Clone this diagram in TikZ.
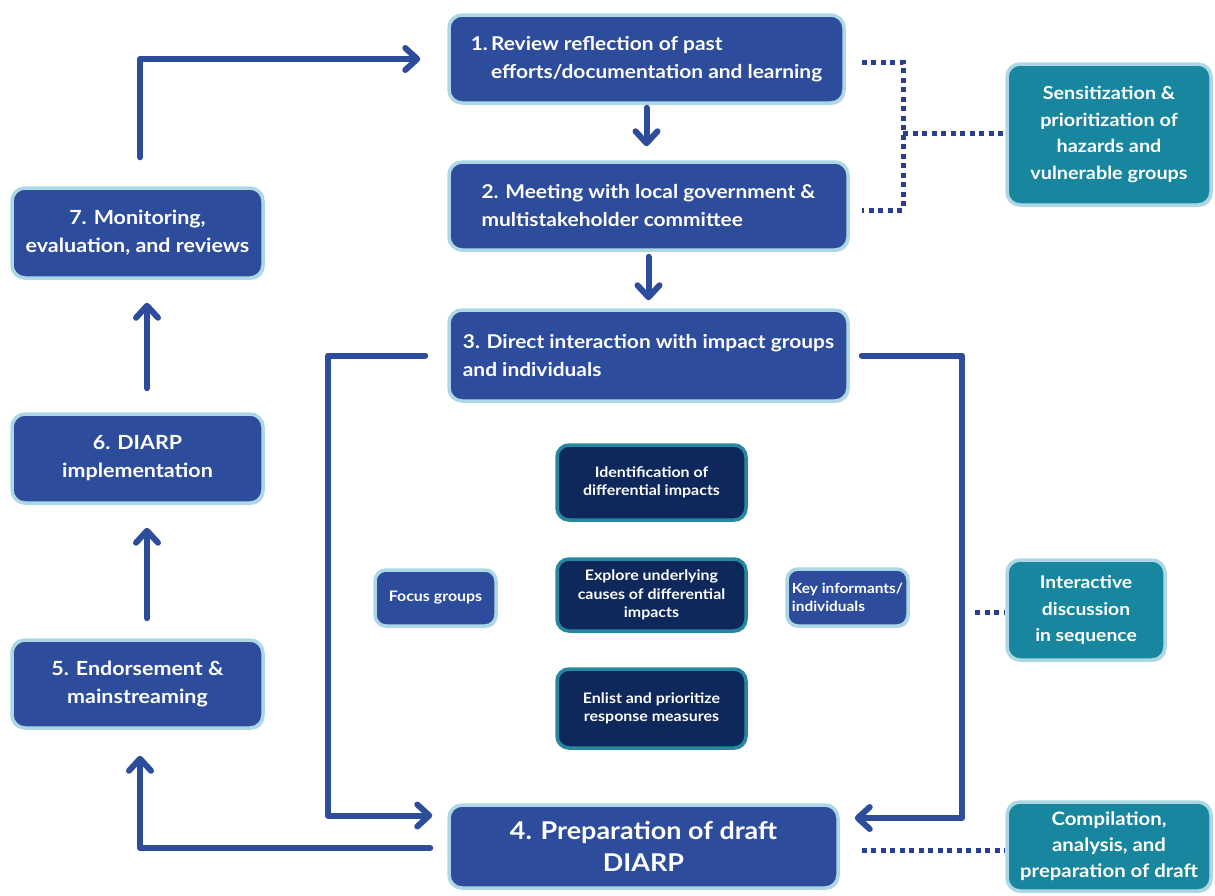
\documentclass[tikz,border=0pt]{standalone}
\usepackage{fontspec}
\setmainfont{Lato}[FakeStretch=1.1]
\usetikzlibrary{arrows.meta,shadows}
\definecolor{mb}{RGB}{46,76,156}
\definecolor{lb}{RGB}{172,216,230}
\definecolor{tl}{RGB}{24,134,158}
\definecolor{nv}{RGB}{14,40,92}
\definecolor{tb}{RGB}{38,136,158}
\definecolor{ac}{RGB}{46,76,156}
\definecolor{dc}{RGB}{40,62,145}
\tikzset{
  mainbox/.style={draw=lb, line width=3.5pt, fill=mb, rounded corners=13pt, text=white,
    inner sep=0pt, font=\bfseries\fontsize{19}{28}\selectfont,
    drop shadow={shadow xshift=1.5pt, shadow yshift=-2pt, opacity=0.25}},
  leftbox/.style={mainbox, align=center, font=\bfseries\fontsize{19.5}{28}\selectfont},
  sidebox/.style={mainbox, fill=tl, align=center, font=\bfseries\fontsize{18}{26.5}\selectfont},
  innerbox/.style={mainbox, draw=tb, fill=nv, rounded corners=12pt, align=center,
    font=\bfseries\fontsize{14.5}{18.5}\selectfont},
  smallbox/.style={mainbox, rounded corners=11pt, align=left, font=\bfseries\fontsize{14.5}{18}\selectfont},
  arr/.style={draw=ac, line width=6pt, line cap=round, line join=round,
    -{Straight Barb[length=12pt,width=22pt,line cap=round,line join=round]}},
  dots/.style={draw=dc, line width=5pt, dash pattern=on 5pt off 4.5pt},
}
\begin{document}
\begin{tikzpicture}[x=1pt,y=-1pt]
\useasboundingbox (0,0) rectangle (1215,895);
% main steps
\node[mainbox, align=left, minimum width=395pt, minimum height=88pt] (b1) at (646.5,59)
  {1.\,Review reflection of past\\\phantom{1.\,}efforts/documentation and learning};
\node[mainbox, align=left, minimum width=399pt, minimum height=88pt] (b2) at (648.5,206)
  {2. Meeting with local government \&\\multistakeholder committee};
\node[mainbox, align=left, minimum width=399pt, minimum height=91pt] (b3) at (648.5,355.5)
  {3. Direct interaction with impact groups\\and individuals};
\node[mainbox, align=center, minimum width=389pt, minimum height=83pt,
  font=\bfseries\fontsize{24.5}{32}\selectfont] (b4) at (643.5,846.5)
  {4. Preparation of draft\\DIARP};
\node[leftbox, minimum width=251pt, minimum height=88pt] (b5) at (137.5,684)
  {5. Endorsement \&\\mainstreaming};
\node[leftbox, minimum width=251pt, minimum height=89pt] (b6) at (137.5,458.5)
  {6. DIARP\\implementation};
\node[leftbox, minimum width=251pt, minimum height=90pt] (b7) at (137.5,233)
  {7. Monitoring,\\evaluation, and reviews};
% side notes
\node[sidebox, minimum width=204pt, minimum height=141pt] (s1) at (1109,134.5)
  {Sensitization \&\\prioritization of\\hazards and\\vulnerable groups};
\node[sidebox, minimum width=158pt, minimum height=100pt, font=\bfseries\fontsize{17.5}{26.5}\selectfont] (s2) at (1086,610)
  {Interactive\\discussion\\in sequence};
\node[sidebox, minimum width=204pt, minimum height=89pt, font=\bfseries\fontsize{18.5}{26}\selectfont] (s3) at (1109,846.5)
  {Compilation,\\analysis, and\\preparation of draft};
% inner boxes
\node[innerbox, minimum width=189pt, minimum height=75pt] (i1) at (651.5,482.5)
  {Identification of\\differential impacts};
\node[innerbox, minimum width=189pt, minimum height=72pt] (i2) at (651.5,595)
  {Explore underlying\\causes of differential\\impacts};
\node[innerbox, minimum width=189pt, minimum height=79pt] (i3) at (651.5,708.5)
  {Enlist and prioritize\\response measures};
\node[smallbox, minimum width=121pt, minimum height=56pt] (f) at (435.5,598) {Focus groups};
\node[smallbox, minimum width=121pt, minimum height=57pt, font=\bfseries\fontsize{14}{18}\selectfont] (k) at (847.5,597.5)
  {Key informants/\\individuals};
% helper coordinates
\coordinate (lx) at (328,0);
\coordinate (rx) at (962,0);
\coordinate (dx) at (903,0);
\coordinate (t4l) at ([xshift=-15pt,yshift=31pt]b4.west);
\coordinate (t4r) at ([xshift=15pt,yshift=28.5pt]b4.east);
% arrows
\draw[arr] ([xshift=2.5pt,yshift=29pt]b7.north) |- ([xshift=-27pt]b1.west);
\draw[arr, shorten <=3pt, shorten >=14pt] (b1.south) -- (b1.south |- b2.north);
\draw[arr, shorten <=5pt, shorten >=8pt] (b2.south) -- (b2.south |- b3.north);
\draw[arr] ([xshift=-22pt]b3.west) -- (lx |- b3.west) -- (lx |- t4l) -- (t4l);
\draw[arr] ([xshift=12pt]b3.east) -- (rx |- b3.east) -- (rx |- t4r) -- (t4r);
\draw[arr] ([xshift=-17pt,yshift=-1.5pt]b4.west) -| ([xshift=2.5pt,yshift=-26pt]b5.south);
\draw[arr] ([xshift=9.5pt,yshift=20pt]b5.north) -- ([xshift=9.5pt,yshift=-23pt]b6.south);
\draw[arr] ([xshift=9.5pt,yshift=24pt]b6.north) -- ([xshift=9.5pt,yshift=-23pt]b7.south);
% dotted links
\draw[dots] ([xshift=16pt,yshift=-3pt]b1.east) -- ([yshift=-3pt]dx |- b1.east) -- ([yshift=-4pt]dx |- b2.east) -- ([xshift=12pt,yshift=-4pt]b2.east);
\draw[dots] ([yshift=1.5pt]dx |- s1.west) -- ([yshift=1.5pt]s1.west);
\draw[dots] ([xshift=-30pt,yshift=-2pt]s2.west) -- ([yshift=-2pt]s2.west);
\draw[dots] ([xshift=22pt,yshift=-3.5pt]b4.east) -- ([yshift=-3.5pt]s3.west);
\end{tikzpicture}
\end{document}
